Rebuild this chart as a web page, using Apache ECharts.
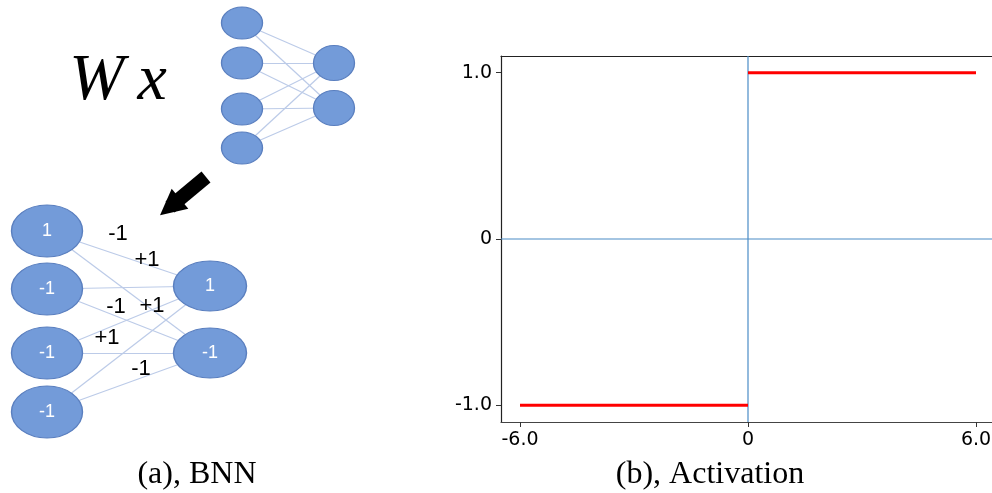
<!DOCTYPE html>
<html>
<head>
<meta charset="utf-8">
<script src="https://cdn.jsdelivr.net/npm/echarts@6/dist/echarts.min.js"></script>
<style>
html,body{margin:0;padding:0;background:#fff;}
#c{width:992px;height:493px;}
</style>
</head>
<body>
<div id="c"></div>
<script>
// ---------- Panel (a): diagram data (diagram coordinates) ----------
const topInputs = [[242, 23], [242, 63], [242, 109], [242, 148]];
const topOutputs = [[334, 63], [334, 108]];
const botInputs = [[47, 231], [47, 289], [47, 353], [47, 412]];
const botInputLabels = ['1', '-1', '-1', '-1'];
const botOutputs = [[210, 286], [210, 353]];
const botOutputLabels = ['1', '-1'];
const edgeWeightLabels = ['-1', '+1', '-1', '+1', '+1', '-1'];
const edgeWeightPos = [[118, 234], [147, 260], [116, 307], [152, 306], [107, 338], [141, 369]];
const formulaText = ['W\u2009x'];
const formulaPos = [[118, 82]];
const arrowFrom = [206, 177];
const arrowTo = [170, 207];

// ---------- Panel (b): activation data ----------
const xTicks = [-6, 0, 6];
const xTickLabels = ['-6.0', '0', '6.0'];
const yTicks = [-1, 0, 1];
const yTickLabels = ['-1.0', '0', '1.0'];
const xRange = [-6.5, 6.5];
const yRange = [-1.1, 1.1];
const negX = [-6, 0];
const negY = [-1, -1];
const posX = [0, 6];
const posY = [1, 1];

function pairs(xs, ys) { return xs.map((x, i) => [x, ys[i]]); }
function fullEdges(ins, outs) {
  const e = [];
  ins.forEach(a => outs.forEach(b => e.push({ coords: [a, b] })));
  return e;
}

const nodeFill = '#739bd9';
const nodeBorder = '#5a7fbf';
const edgeColor = '#bccbe8';

const chart = echarts.init(document.getElementById('c'), null, { renderer: 'canvas' });
chart.setOption({
  animation: false,
  backgroundColor: '#ffffff',
  grid: [
    { left: 0, top: 0, width: 400, height: 493, show: false, outerBoundsMode: 'none' },
    { left: 501, top: 56, right: -3, height: 366, show: false, outerBoundsMode: 'none' }
  ],
  xAxis: [
    { gridIndex: 0, type: 'value', min: 0, max: 400, show: false },
    {
      gridIndex: 1, type: 'value', min: xRange[0], max: xRange[1],
      splitLine: { show: false },
      axisLine: { show: true, onZero: false, lineStyle: { color: '#444', width: 1.2 } },
      axisTick: { show: true, customValues: xTicks, length: 5, inside: false, lineStyle: { color: '#333' } },
      axisLabel: {
        customValues: xTicks, margin: 9, fontFamily: 'DejaVu Sans', fontSize: 19, color: '#000',
        formatter: v => xTickLabels[xTicks.indexOf(v)] ?? ''
      }
    },
    {
      gridIndex: 1, type: 'value', position: 'top', min: xRange[0], max: xRange[1],
      splitLine: { show: false },
      axisLine: { show: true, onZero: false, lineStyle: { color: '#222', width: 1.2 } },
      axisTick: { show: false }, axisLabel: { show: false }
    }
  ],
  yAxis: [
    { gridIndex: 0, type: 'value', min: 0, max: 493, inverse: true, show: false },
    {
      gridIndex: 1, type: 'value', min: yRange[0], max: yRange[1],
      splitLine: { show: false },
      axisLine: { show: true, onZero: false, lineStyle: { color: '#222', width: 1.2 } },
      axisTick: { show: true, customValues: yTicks, length: 5, inside: false, lineStyle: { color: '#333' } },
      axisLabel: {
        customValues: yTicks, margin: 9, fontFamily: 'DejaVu Sans', fontSize: 19, color: '#000',
        formatter: v => yTickLabels[yTicks.indexOf(v)] ?? ''
      }
    }
  ],
  series: [
    // top network edges
    {
      type: 'lines', coordinateSystem: 'cartesian2d', xAxisIndex: 0, yAxisIndex: 0, z: 1,
      lineStyle: { color: edgeColor, width: 1.2, opacity: 1 },
      data: fullEdges(topInputs, topOutputs)
    },
    // bottom network edges
    {
      type: 'lines', coordinateSystem: 'cartesian2d', xAxisIndex: 0, yAxisIndex: 0, z: 1,
      lineStyle: { color: edgeColor, width: 1.2, opacity: 1 },
      data: fullEdges(botInputs, botOutputs)
    },
    // arrow
    {
      type: 'lines', coordinateSystem: 'cartesian2d', xAxisIndex: 0, yAxisIndex: 0, z: 3,
      symbol: ['none', 'triangle'], symbolSize: [36, 26],
      lineStyle: { color: '#000', width: 14, opacity: 1, cap: 'butt' },
      itemStyle: { color: '#000' },
      data: [{ coords: [arrowFrom, arrowTo] }]
    },
    // top nodes
    {
      type: 'scatter', xAxisIndex: 0, yAxisIndex: 0, z: 2,
      symbol: 'circle', symbolSize: [41, 32],
      itemStyle: { color: nodeFill, borderColor: nodeBorder, borderWidth: 1.2, opacity: 1 },
      data: topInputs
    },
    {
      type: 'scatter', xAxisIndex: 0, yAxisIndex: 0, z: 2,
      symbol: 'circle', symbolSize: [41, 35],
      itemStyle: { color: nodeFill, borderColor: nodeBorder, borderWidth: 1.2, opacity: 1 },
      data: topOutputs
    },
    // bottom nodes
    {
      type: 'scatter', xAxisIndex: 0, yAxisIndex: 0, z: 2,
      symbol: 'circle', symbolSize: [71, 52],
      itemStyle: { color: nodeFill, borderColor: nodeBorder, borderWidth: 1.2, opacity: 1 },
      label: { show: true, position: 'inside', color: '#fff', fontFamily: 'Liberation Sans', fontSize: 18,
        formatter: p => botInputLabels[p.dataIndex] },
      data: botInputs
    },
    {
      type: 'scatter', xAxisIndex: 0, yAxisIndex: 0, z: 2,
      symbol: 'circle', symbolSize: [73, 50],
      itemStyle: { color: nodeFill, borderColor: nodeBorder, borderWidth: 1.2, opacity: 1 },
      label: { show: true, position: 'inside', color: '#fff', fontFamily: 'Liberation Sans', fontSize: 18,
        formatter: p => botOutputLabels[p.dataIndex] },
      data: botOutputs
    },
    // edge weight labels
    {
      type: 'scatter', xAxisIndex: 0, yAxisIndex: 0, z: 4,
      symbolSize: 0, itemStyle: { opacity: 1 },
      label: { show: true, position: 'inside', color: '#000', fontFamily: 'Liberation Sans', fontSize: 22,
        formatter: p => edgeWeightLabels[p.dataIndex] },
      data: edgeWeightPos
    },
    // formula
    {
      type: 'scatter', xAxisIndex: 0, yAxisIndex: 0, z: 4,
      symbolSize: 0, itemStyle: { opacity: 1 },
      label: { show: true, position: 'inside', color: '#000', fontFamily: 'Liberation Serif', fontStyle: 'italic', fontSize: 66,
        formatter: p => formulaText[p.dataIndex] },
      data: formulaPos
    },
    // panel (b): zero lines
    {
      type: 'line', xAxisIndex: 1, yAxisIndex: 1, z: 2, symbol: 'none',
      lineStyle: { color: '#4a8cc6', width: 1.2 },
      data: pairs(xRange, [0, 0])
    },
    {
      type: 'line', xAxisIndex: 1, yAxisIndex: 1, z: 2, symbol: 'none',
      lineStyle: { color: '#4a8cc6', width: 1.2 },
      data: pairs([0, 0], yRange)
    },
    // sign activation
    {
      type: 'line', xAxisIndex: 1, yAxisIndex: 1, z: 3, symbol: 'none',
      lineStyle: { color: '#ff0000', width: 3 },
      data: pairs(negX, negY)
    },
    {
      type: 'line', xAxisIndex: 1, yAxisIndex: 1, z: 3, symbol: 'none',
      lineStyle: { color: '#ff0000', width: 3 },
      data: pairs(posX, posY)
    }
  ],
  graphic: [
    { type: 'text', x: 197, y: 475, style: { text: '(a), BNN', fill: '#000', font: '32px "Liberation Serif"', textAlign: 'center', textVerticalAlign: 'middle' } },
    { type: 'text', x: 710, y: 475, style: { text: '(b), Activation', fill: '#000', font: '32px "Liberation Serif"', textAlign: 'center', textVerticalAlign: 'middle' } }
  ]
});
</script>
</body>
</html>
